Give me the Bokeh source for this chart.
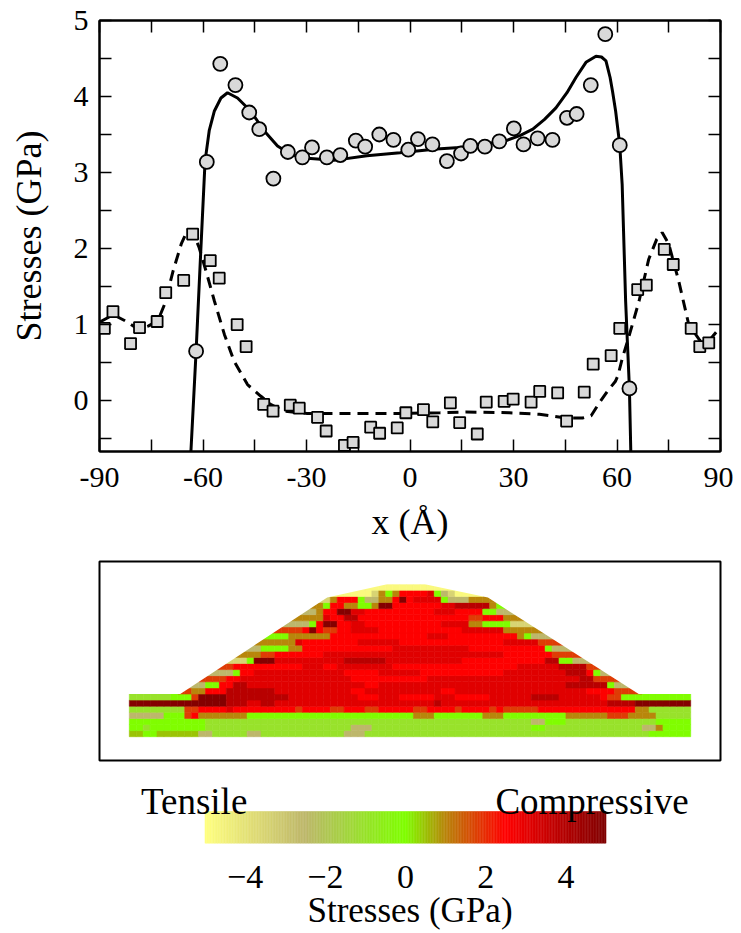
import numpy as np
from bokeh.plotting import figure
from bokeh.layouts import column
from bokeh.models import (ColumnDataSource, FixedTicker, LinearAxis, Range1d,
                          CustomJSTickFormatter)
from bokeh.transform import linear_cmap
from bokeh.core.properties import value
from bokeh.embed import file_html
from bokeh.resources import INLINE

FONT = "Liberation Serif"

# ---------------- top panel data (x in Angstrom, stresses in GPa) ----------------
circ_x = [-62.0, -58.9, -55.0, -50.6, -46.6, -43.7, -39.6, -35.4, -31.2, -28.4,
          -24.1, -20.2, -15.7, -13.0, -8.9, -4.8, -0.5, 2.3, 6.5, 10.7,
          14.8, 17.5, 21.7, 25.9, 30.1, 32.9, 37.0, 41.3, 45.5, 48.3,
          52.4, 56.6, 60.8, 63.6]
circ_y = [0.65, 3.14, 4.43, 4.15, 3.79, 3.57, 2.92, 3.27, 3.20, 3.33,
          3.20, 3.23, 3.42, 3.34, 3.50, 3.43, 3.30, 3.44, 3.37, 3.15,
          3.25, 3.35, 3.34, 3.41, 3.58, 3.37, 3.45, 3.43, 3.72, 3.77,
          4.15, 4.82, 3.36, 0.16]

sq_x = [-88.6, -86.1, -81.0, -78.4, -73.3, -70.8, -65.6, -63.0, -57.9, -55.3,
        -50.1, -47.5, -42.4, -39.7, -34.7, -32.1, -26.8, -24.3, -19.0, -16.5,
        -11.4, -8.8, -3.7, -1.2, 3.9, 6.6, 11.7, 14.4, 19.5, 22.1,
        27.3, 29.9, 35.1, 37.6, 42.8, 45.4, 50.5, 53.1, 58.3, 60.8,
        66.0, 68.5, 73.7, 76.3, 81.5, 84.0, 86.6]
sq_y = [0.95, 1.17, 0.75, 0.96, 1.04, 1.42, 1.58, 2.19, 1.84, 1.61,
        1.00, 0.71, -0.05, -0.14, -0.06, -0.10, -0.22, -0.40, -0.59, -0.55,
        -0.35, -0.43, -0.36, -0.16, -0.12, -0.28, -0.03, -0.29, -0.44, -0.02,
        -0.01, 0.02, -0.02, 0.12, 0.10, -0.27, 0.11, 0.48, 0.59, 0.95,
        1.46, 1.52, 1.99, 1.79, 0.95, 0.71, 0.76]

fit_solid_x = [-63.8, -63.5, -62.0, -60.6, -59.4, -58.2, -56.7, -54.8, -52.9, -50.0,
               -46.2, -42.3, -38.4, -34.6, -30.7, -22.1, -12.5, -2.9, 7.7, 14.4,
               20.0, 27.9, 32.0, 35.6, 39.0, 42.3, 45.5, 48.1, 51.0, 53.9,
               55.5, 56.8, 58.0, 58.7, 59.6, 60.8, 61.5, 62.5, 63.0, 63.6,
               64.0, 64.2]
fit_solid_y = [-1.0, -0.67, 0.65, 2.01, 3.15, 3.55, 3.81, 3.98, 4.05, 3.98,
               3.81, 3.55, 3.35, 3.24, 3.19, 3.16, 3.22, 3.26, 3.31, 3.33,
               3.36, 3.42, 3.49, 3.57, 3.70, 3.85, 4.05, 4.25, 4.45, 4.53,
               4.52, 4.47, 4.25, 4.07, 3.81, 3.36, 2.84, 1.31, 0.78, 0.16,
               -0.67, -1.0]

fit_dash_x = [-90.0, -86.0, -82.6, -78.8, -75.9, -73.1, -71.1, -68.7, -66.3, -64.4,
              -63.0, -61.1, -59.1, -56.7, -53.8, -51.0, -47.1, -43.3, -40.4, -36.5,
              -29.8, -22.1, -2.9, 8.7, 16.3, 28.8, 37.5, 45.2, 50.0, 52.5,
              55.0, 57.5, 59.5, 60.3, 61.5, 63.5, 66.4, 69.2, 71.5, 73.1,
              75.0, 77.9, 80.8, 84.2, 87.1, 90.0]
fit_dash_y = [1.03, 1.13, 1.05, 0.94, 0.98, 1.05, 1.27, 1.70, 2.06, 2.25,
              2.23, 2.01, 1.70, 1.31, 0.87, 0.52, 0.21, 0.06, -0.05, -0.14,
              -0.17, -0.17, -0.17, -0.16, -0.15, -0.16, -0.18, -0.23, -0.23, -0.20,
              -0.02, 0.14, 0.25, 0.33, 0.55, 0.85, 1.31, 1.86, 2.12, 2.21,
              2.06, 1.57, 1.00, 0.78, 0.81, 0.97]

x_ticks = [-90, -75, -60, -45, -30, -15, 0, 15, 30, 45, 60, 75, 90]
y_ticks = [-0.5, 0, 0.5, 1, 1.5, 2, 2.5, 3, 3.5, 4, 4.5, 5]

# ---------------- bottom panel data: stress map of the island ----------------
# one character per 2 A column (x = -80 .. 80), one string per atomic layer (bottom first)
stress_code = {'Y': -4.8, 'y': -3.5, 'k': -2.5, 'l': -1.0, 'g': 0.0, 'q': 0.5,
               'o': 1.0, 'n': 1.8, 'r': 2.5, 'R': 3.1, 'd': 3.9, 'D': 4.9}
col_x0 = -80.0
col_dx = 2.0
layer_rows = [
    "qqggqqqqqq" "kklllllkkl" "llllllllll" "lkkkllllll" "llllllllll" "llllllllll" "llllllllll" "lllllggggg" "g",
    "gglggggggg" "glllllllll" "llllllllll" "llkkklllll" "llllllllll" "llllllllgg" "llllllllll" "llllkkoggg" "g",
    "gggggggggg" "glllllllll" "llllllllll" "llllllllll" "llllllllll" "llllllllkk" "ggglllllll" "llllllgggg" "g",
    "kkkkkgggnr" "oooooooggg" "gggggggggg" "gggggggggg" "gooogggggg" "gooogggggg" "gggoooooon" "nnoooollll" "l",
    "llllllllnn" "rrrrRrrrrr" "rrrrnrrrrn" "nrrrnnrrrr" "rnnrrrrnrr" "rrnrnnnnnr" "rrrrrrrrrr" "rrroolllll" "l",
    "DDDDDDDDDD" "DDDDdddRRd" "dRRRRRRRRR" "RRRRRRRRRR" "RRRRdRRRRR" "RRRRRRRRRR" "RRRRRRRRRd" "dddDDDDDDD" "D",
    "llllllgggn" "DDDDdddddd" "dddRRRRRRR" "RRRrrrRRRr" "rrrrRRRrrr" "rrRRRRRRdd" "ddRRRRRRrn" "nggggggggg" "g",
    "       nno" "orrrdddddd" "dRRRRRRRRR" "RRrrRRRRRR" "RRRRRrrRRR" "RRRRRRRRRR" "RRRRRRrrrr" "nnnn      " " ",
    "        kk" "kggrrddRRR" "RRRRRRRRRR" "RRRRrrRRRR" "RRRRRRRRRR" "RRRRRRRRRR" "RRRddddddg" "kkk       " " ",
    "          " "nnnnrrRRRR" "RRRRRRRRRR" "RRrrrrrrrr" "rrrRRRRRRR" "RRRRRRRRRR" "RRRRRddnnn" "n         " " ",
    "          " " kkkkgrrRR" "RRRRRRRRRR" "RrrrrrRRRR" "RRrrrrrrrr" "rrrrRRRRRR" "RRRdddrgkk" "          " " ",
    "          " "  nnnrrrrr" "rrrrrRRRrr" "RRRRRRRRrr" "rrrrrrrrrr" "rrrrrrRRRR" "RRddddnnn " "          " " ",
    "          " "    yyygDD" "DRRRRRRRRR" "RddddddRRR" "RRRRRRRRrr" "rrrrrrrrrr" "ddggkkkk  " "          " " ",
    "          " "     oooon" "nrrrrrrrRR" "RRRRRRRRRR" "RRRRRRRRRR" "RRRRrrrrrr" "rnnnnn    " "          " " ",
    "          " "      kkkg" "gggoorrrrr" "rrrrrrrrRR" "RRRRRRRRRr" "rrrrrrrrrr" "gkkkk     " "          " " ",
    "          " "        oo" "ooooRrrrrr" "rrrRRRRRRr" "rrrrrrrrrr" "rrrrRRRRRn" "nnn       " "          " " ",
    "          " "         g" "gggoooooor" "rrrrrrrrrr" "rrrRRRrrrr" "rrrrrrogkk" "kk        " "          " " ",
    "          " "          " "nnnnnrDrnn" "rrRRRRrrrr" "rrrrrrrrRR" "RRRRoooooo" "          " "          " " ",
    "          " "          " "  kkkkgrDD" "rrRRrrrrrr" "rrrrrRRRRo" "oggggyyyy " "          " "          " " ",
    "          " "          " "   oooooRr" "rddrrrrrrr" "rrrrrrrrrn" "nrrroooo  " "          " "          " " ",
    "          " "          " "    kkkorr" "DDRRrrrrrr" "rrrrRRRrrr" "rggkkk    " "          " "          " " ",
    "          " "          " "      oogr" "rooggoDDrr" "rrrrrRRddd" "ddoggg    " "          " "          " " ",
    "          " "          " "       yyo" "rrrgkkoorD" "rRRRRgkkko" "ooo       " "          " "          " " ",
    "          " "          " "         Y" "YYYYYyogor" "rrrRgkyYYY" "Y         " "          " "          " " ",
    "          " "          " "          " "   YYYYYYY" "YYYYYYY   " "          " "          " "          " " ",
]
# island outline (x in A, y in layers) above the 7-layer substrate
island_x = [-66.3, -23.9, -6.6, 4.3, 22.5, 66.0]
island_y = [7.0, 22.8, 25.0, 25.0, 22.8, 7.0]

# colour scale (GPa)
scale_v = [-5.0, -2.5, 0.0, 1.0, 2.5, 5.0]
scale_c = ['#ffff80', '#bdb76b', '#7fff00', '#b8860b', '#ff0000', '#800000']
cbar_ticks = [-4, -2, 0, 2, 4]

# ---------------- palette ----------------
def _rgb(h):
    return [int(h[i:i + 2], 16) for i in (1, 3, 5)]

_rgb_arr = np.array([_rgb(c) for c in scale_c], dtype=float)
_levels = np.linspace(scale_v[0], scale_v[-1], 256)
palette = ['#%02x%02x%02x' % tuple(int(round(np.interp(g, scale_v, _rgb_arr[:, k]))) for k in range(3))
           for g in _levels]

# ---------------- top figure ----------------
p1 = figure(width=733, height=551, x_range=Range1d(-90, 90), y_range=Range1d(-0.67, 5),
            output_backend="svg", toolbar_location=None,
            min_border_left=98, min_border_right=11, min_border_top=20, min_border_bottom=100)
p1.grid.visible = False
p1.outline_line_color = "black"
p1.outline_line_width = 2
p1.background_fill_color = "white"

xfmt = CustomJSTickFormatter(code="return (Math.abs(tick % 30) < 1e-6) ? tick.toFixed(0) : '';")
yfmt = CustomJSTickFormatter(code="return (Math.abs(tick - Math.round(tick)) < 1e-6) ? tick.toFixed(0) : '';")
blank = CustomJSTickFormatter(code="return '';")

def style_axis(ax, ticks, fmt):
    ax.ticker = FixedTicker(ticks=ticks)
    ax.formatter = fmt
    ax.major_tick_in = 12
    ax.major_tick_out = 0
    ax.major_tick_line_width = 1.5
    ax.major_tick_line_color = "black"
    ax.minor_tick_line_color = None
    ax.axis_line_width = 2
    ax.axis_line_color = "black"
    ax.major_label_text_font = FONT
    ax.major_label_text_font_size = "30px"
    ax.major_label_text_color = "black"
    ax.axis_label_text_font = FONT
    ax.axis_label_text_font_size = "36px"
    ax.axis_label_text_font_style = "normal"
    ax.axis_label_text_color = "black"

style_axis(p1.xaxis[0], x_ticks, xfmt)
style_axis(p1.yaxis[0], y_ticks, yfmt)
p1.xaxis.axis_label = "x (Å)"
p1.yaxis.axis_label = "Stresses (GPa)"
p1.xaxis.major_label_standoff = 16
p1.yaxis.major_label_standoff = 11
p1.xaxis.axis_label_standoff = 12
p1.yaxis.axis_label_standoff = 22

ax_top = LinearAxis()
style_axis(ax_top, x_ticks, blank)
ax_top.major_label_standoff = 0
ax_top.major_label_text_font_size = "0px"
p1.add_layout(ax_top, "above")
ax_right = LinearAxis()
style_axis(ax_right, y_ticks, blank)
ax_right.major_label_standoff = 0
ax_right.major_label_text_font_size = "0px"
p1.add_layout(ax_right, "right")

p1.line(fit_dash_x, fit_dash_y, line_width=3, line_color="black", line_dash="11 7")
p1.line(fit_solid_x, fit_solid_y, line_width=3, line_color="black")
p1.scatter(sq_x, sq_y, marker="square", size=11, fill_color="#d9d9d9",
           line_color="black", line_width=1.8)
p1.scatter(circ_x, circ_y, marker="circle", size=14, fill_color="#d9d9d9",
           line_color="black", line_width=1.8)

# ---------------- heat-map figure ----------------
cx, cy, cv = [], [], []
for r, row in enumerate(layer_rows):
    row = row.ljust(81)[:81]
    for i, ch in enumerate(row):
        if ch != ' ':
            cx.append(col_x0 + col_dx * i)
            cy.append(r + 0.5)
            cv.append(stress_code[ch])
heat_src = ColumnDataSource(dict(x=cx, y=cy, v=cv))

p2 = figure(width=733, height=221, x_range=Range1d(-89.6, 89.6), y_range=Range1d(-3.9, 28.72),
            output_backend="svg", toolbar_location=None,
            min_border_left=99, min_border_right=13, min_border_top=10, min_border_bottom=12)
p2.axis.visible = False
p2.grid.visible = False
p2.outline_line_color = "black"
p2.outline_line_width = 2
cmap = linear_cmap("v", palette, scale_v[0], scale_v[-1])
p2.rect(x="x", y="y", width=col_dx, height=1, source=heat_src,
        fill_color=cmap, line_color=cmap, line_width=0.6)
mask_x = [-89.0] + island_x + [89.0, 89.0, -89.0]
mask_y = [island_y[0]] + island_y + [island_y[-1], 28.4, 28.4]
p2.patch(mask_x, mask_y, fill_color="white", line_color=None)

# ---------------- colour bar figure ----------------
p3 = figure(width=733, height=160, x_range=Range1d(-7.630, 7.854), y_range=Range1d(0, 80),
            output_backend="svg", toolbar_location=None,
            min_border_left=98, min_border_right=11, min_border_top=0, min_border_bottom=80)
p3.grid.visible = False
p3.outline_line_color = None
p3.yaxis.visible = False
edges = np.linspace(scale_v[0], scale_v[-1], 257)
p3.quad(left=edges[:-1], right=edges[1:], bottom=0, top=36, fill_color=palette,
        line_color=palette, line_width=0.5)
p3.text(x=[-5.27, 4.65], y=[47, 47], text=["Tensile", "Compressive"],
        text_font=value(FONT), text_font_size="37px", text_align="center",
        text_baseline="alphabetic", text_color="black")
ax = p3.xaxis[0]
ax.ticker = FixedTicker(ticks=cbar_ticks)
ax.formatter = CustomJSTickFormatter(code="return tick < 0 ? '\u2212' + Math.abs(tick) : tick.toFixed(0);")
ax.axis_line_color = None
ax.major_tick_line_color = None
ax.minor_tick_line_color = None
ax.major_label_text_font = FONT
ax.major_label_text_font_size = "34px"
ax.major_label_text_color = "black"
ax.major_label_standoff = 16
ax.axis_label = "Stresses (GPa)"
ax.axis_label_text_font = FONT
ax.axis_label_text_font_size = "35px"
ax.axis_label_text_font_style = "normal"
ax.axis_label_text_color = "black"
ax.axis_label_standoff = 0

layout = column(p1, p2, p3)
open("out.html", "w").write(file_html(layout, INLINE))
